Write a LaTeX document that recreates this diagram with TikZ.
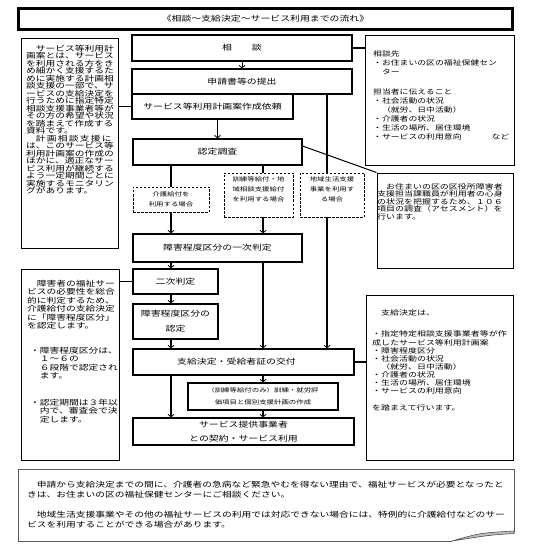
\documentclass[tikz,border=0pt]{standalone}
\usepackage{fontspec}
\newfontfamily\jp[FakeStretch=1.3]{Noto Sans CJK JP}
\usetikzlibrary{arrows.meta,positioning}

\tikzset{
  flowbox/.style={draw,line width=1.3pt,inner sep=0pt,align=center,
    font=\jp\fontsize{7.6pt}{9pt}\selectfont},
  casebox/.style={draw,dash pattern=on 2.5pt off 1.5pt,line width=0.8pt,inner sep=0pt},
  casetext/.style={inner sep=0pt,align=center,font=\jp\fontsize{5.7pt}{10pt}\selectfont},
  sidebox/.style={draw,line width=0.9pt,inner sep=0pt},
  sidetext/.style={inner sep=0pt,anchor=north west,align=left},
  flow/.style={line width=1.6pt,-{Straight Barb[length=2.5pt,width=6pt,line width=0.8pt]}},
  thinflow/.style={line width=0.9pt,-{Straight Barb[length=2.5pt,width=6pt,line width=0.8pt]}},
  link/.style={line width=1.6pt},
}

\begin{document}
\begin{tikzpicture}[x=1pt,y=-1pt]
  \useasboundingbox (0,0) rectangle (542,553);
  % title
  \node[flowbox,line width=2.2pt,minimum width=494pt,minimum height=21pt] (title) at (265.5,19)
    {《相談～支給決定～サービス利用までの流れ》};

  % main column
  \node[flowbox,minimum width=220pt,minimum height=26pt] (soudan) at (242,48) {相　　談};
  \node[flowbox,minimum width=220pt,minimum height=25pt] (shinsei) at (242,81.5) {申請書等の提出};
  \node[flowbox,minimum width=161pt,minimum height=25pt] (irai) at (212.5,106.5) {サービス等利用計画案作成依頼};
  \node[flowbox,minimum width=169pt,minimum height=26pt] (chousa) at (217.5,152) {認定調査};
  \node[flowbox,minimum width=169pt,minimum height=28pt] (ichiji) at (217.5,248) {障害程度区分の一次判定};
  \node[flowbox,minimum width=85pt,minimum height=25pt] (niji) at (175.5,281.5) {二次判定};
  \node[flowbox,minimum width=85pt,minimum height=35pt,font=\jp\fontsize{7.6pt}{15pt}\selectfont] (nintei) at (175.5,321.5) {障害程度区分の\\認定};
  \node[flowbox,minimum width=221pt,minimum height=26pt] (shikyu) at (243.5,362) {支給決定・受給者証の交付\hspace{14pt}};
  \node[flowbox,minimum width=150pt,minimum height=27pt,font=\jp\fontsize{5.7pt}{11.5pt}\selectfont] (keikaku) at (263,396.5)
    {（訓練等給付のみ）訓練・就労評\\価項目と個別支援計画の作成};
  \node[flowbox,minimum width=221pt,minimum height=27pt,font=\jp\fontsize{7.6pt}{14pt}\selectfont] (riyou) at (243.5,431.5)
    {サービス提供事業者\\との契約・サービス利用};

  % cases
  \node[casebox,minimum width=76pt,minimum height=25pt] (kaigo) at (171,199.5) {};
  \node[casetext] (kaigotext) at (kaigo) {介護給付を\\利用する場合};
  \node[casebox,minimum width=69pt,minimum height=44pt] (kunren) at (258.5,195) {};
  \node[casetext,below=3.5pt of kunren.north] (kunrentext) {訓練等給付・地\\域相談支援給付\\を利用する場合};
  \node[casebox,minimum width=64pt,minimum height=44pt] (chiiki) at (332,195) {};
  \node[casetext,below=3.5pt of chiiki.north] (chiikitext) {地域生活支援\\事業を利用す\\る場合};

  % side notes
  \node[sidebox,minimum width=97pt,minimum height=210pt] (left1) at (69.5,143) {};
  \node[sidetext,font=\jp\fontsize{7.5pt}{7.5pt}\selectfont] (left1text) at (26,44.5)
    {　サービス等利用計\\画案とは、サービス\\を利用される方をき\\め細かく支援するた\\めに実施する計画相\\談支援の一部で、サ\\ービスの支給決定を\\行うために指定特定\\相談支援事業者等が\\その方の希望や状況\\を踏まえて作成する\\資料です。\\
     　計\,画\,相\,談\,支\,援\,に\\は、このサービス等\\利用計画案の作成の\\ほかに、適正なサー\\ビス利用が継続する\\よう一定期間ごとに\\実施するモニタリン\\グがあります。};

  \node[sidebox,minimum width=98pt,minimum height=191pt] (left2) at (70,364.5) {};
  \node[sidetext,font=\jp\fontsize{7.5pt}{8.5pt}\selectfont] (left2text) at (27,279.6)
    {　障害者の福祉サー\\ビスの必要性を総合\\的に判定するため、\\介護給付の支給決定\\に「障害程度区分」\\を認定します。\\[16pt]
     \hspace{3pt}・障害程度区分は、\\\hspace{3pt}　１～６の\\\hspace{3pt}　６段階で認定され\\\hspace{3pt}　ます。\\[18pt]
     \hspace{3pt}・認定期間は３年以\\\hspace{3pt}　内で、審査会で決\\\hspace{3pt}　定します。};

  \node[sidebox,minimum width=149pt,minimum height=130pt] (right1) at (439.5,100) {};
  \node[sidetext,font=\jp\fontsize{6.8pt}{9pt}\selectfont] (right1text) at (373,51)
    {相談先\\・お住まいの区の福祉保健セン\\　ター\\[11pt]
     担当者に伝えること\\・社会活動の状況\\　（就労、日中活動）\\・介護者の状況\\・生活の場所、居住環境\\・サービスの利用意向\hspace{30pt}など};

  \node[sidebox,minimum width=136pt,minimum height=95pt] (right2) at (445,220.5) {};
  \node[sidetext,font=\jp\fontsize{6.9pt}{7.5pt}\selectfont] (right2text) at (377,183)
    {　お住まいの区の区役所障害者\\支援担当課職員が利用者の心身\\の状況を把握するため、１０６\\項目の調査（アセスメント）を\\行います。};

  \node[sidebox,minimum width=147pt,minimum height=165pt] (right3) at (439.5,377.5) {};
  \node[sidetext,font=\jp\fontsize{6.9pt}{8.1pt}\selectfont] (right3text) at (372,310)
    {　支給決定は、\\[12.8pt]
     ・指定特定相談支援事業者等が作\\成したサービス等利用計画案\\・障害程度区分\\・社会活動の状況\\　（就労、日中活動）\\・介護者の状況\\・生活の場所、居住環境\\・サービスの利用意向\\[9pt]
     を踏まえて行います。};

  % connectors
  \coordinate (lcol) at (171,0);
  \coordinate (kcol) at (263,0);
  \coordinate (ccol) at (327,0);
  \draw[thinflow] (soudan.south) -- (shinsei.north);
  \draw[link] (soudan.east) -- (soudan.east -| right1.west);
  \draw[link] (irai.west -| left1.east) -- (irai.west);
  \draw[flow] (irai.south -| chousa.north) -- (chousa.north);
  \draw[link] (shinsei.south -| ccol) -- (chiiki.north -| ccol);
  \draw[line width=1pt] (chousa.4) -- (right2.north west);
  \draw[link] (chousa.south -| lcol) -- (kaigo.north);
  \draw[link] (chousa.south -| kcol) -- (kunren.north -| kcol);
  \draw[flow] (kaigo.south) -- (ichiji.north -| lcol);
  \draw[flow] (kunren.south -| kcol) -- (ichiji.north -| kcol);
  \draw[flow] (chiiki.south -| ccol) -- (shikyu.north -| ccol);
  \draw[flow] (ichiji.south -| lcol) -- (niji.north -| lcol);
  \draw[flow] (ichiji.south -| kcol) -- (shikyu.north -| kcol);
  \draw[flow] (niji.south -| lcol) -- (nintei.north -| lcol);
  \draw[flow] (nintei.south -| lcol) -- (shikyu.north -| lcol);
  \draw[flow] (shikyu.south -| lcol) -- (riyou.north -| lcol);
  \draw[flow] (shikyu.south -| kcol) -- (keikaku.north -| kcol);
  \draw[flow] (keikaku.south -| kcol) -- (riyou.north -| kcol);
  \draw[link] (niji.west -| left2.east) -- (niji.west);
  \draw[link] (shikyu.east) -- (shikyu.east -| right3.west);

  % bottom note with curled corner
  \draw[line width=0.9pt,draw=gray!70!black] (452,541) -- (18,541) -- (18,469) -- (514,469) -- (514,532);
  \filldraw[fill=gray!50,draw=gray!60!black,line width=0.6pt]
    (452,541) .. controls (480,533) .. (514,531) -- (514,533.5) .. controls (490,535) .. (452,541) -- cycle;
  \node[sidetext,font=\jp\fontsize{7.5pt}{10pt}\selectfont] (notetext) at (27,480.6)
    {　申請から支給決定までの間に、介護者の急病など緊急やむを得ない理由で、福祉サービスが必要となったと\\きは、お住まいの区の福祉保健センターにご相談ください。\\[10pt]
     　地域生活支援事業やその他の福祉サービスの利用では対応できない場合には、特例的に介護給付などのサー\\ビスを利用することができる場合があります。};
\end{tikzpicture}
\end{document}
